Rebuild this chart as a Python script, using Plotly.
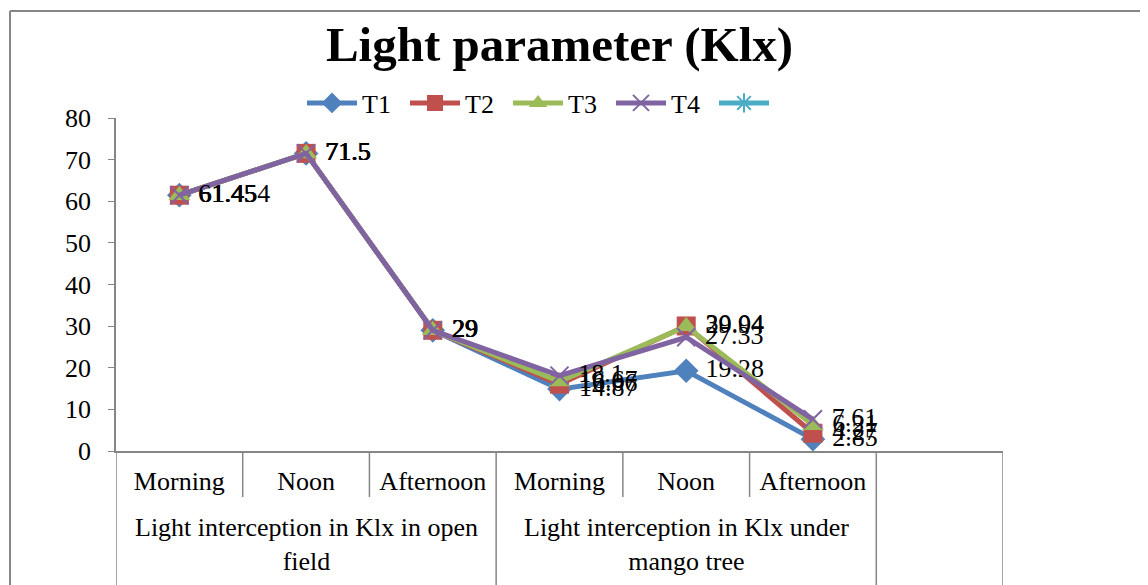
import plotly.graph_objects as go

# ── Data ─────────────────────────────────────────────────────────────────────
PERIODS = ["Morning", "Noon", "Afternoon", "Morning", "Noon", "Afternoon"]
GROUPS = ["Light interception in Klx in open<br>field",
          "Light interception in Klx under<br>mango tree"]
GROUP_CENTERS = [1, 4]          # category index at middle of each group
N_SLOTS = 7                     # source chart keeps one empty slot at the end

T1 = [61.454, 71.5, 29, 14.87, 19.28, 2.85]
T2 = [61.45, 71.5, 29, 16.06, 30.04, 4.27]
T3 = [61.45, 71.5, 29, 16.67, 29.94, 6.21]
T4 = [61.45, 71.5, 29, 18.1, 27.33, 7.61]
T5 = [None] * len(PERIODS)      # empty series, only shows in legend

SERIES = [
    ("T1", T1, "#4F81BD", "diamond"),
    ("T2", T2, "#C0504D", "square"),
    ("T3", T3, "#9BBB59", "triangle-up"),
    ("T4", T4, "#8064A2", "x-thin"),
    (" ", T5, "#4BACC6", "asterisk"),
]

FONT = "Liberation Serif, Times New Roman, serif"
AXIS_CLR = "#868686"

x_idx = list(range(len(PERIODS)))

fig = go.Figure()
for name, vals, clr, sym in SERIES:
    thin = sym in ("x-thin", "asterisk")
    fig.add_trace(go.Scatter(
        x=x_idx, y=vals, name=name,
        mode="lines+markers+text",
        text=[(" " + f"{v:g}") if v is not None else "" for v in vals],
        textposition="middle right",
        textfont=dict(family=FONT, size=26, color="black"),
        line=dict(color=clr, width=5),
        marker=dict(symbol=sym, size=19 if not thin else 18, color=clr,
                    line=dict(color=clr, width=2 if thin else 0)),
        cliponaxis=False,
    ))

# category boxes under the x axis (Excel-style multi-level labels)
short_y0 = -46 / 333
long_y0 = -0.5
shapes = []
for b in range(N_SLOTS + 1):
    xb = b - 0.5
    full = b in (0, 3, 6, 7)
    shapes.append(dict(type="line", xref="x", yref="paper",
                       x0=xb, x1=xb, y0=long_y0 if full else short_y0, y1=0,
                       line=dict(color=AXIS_CLR, width=1.5)))
# outer chart frame (top and left edges visible)
FRAME_X = -106 / 887
FRAME_Y = 440 / 333
shapes.append(dict(type="line", xref="paper", yref="paper",
                   x0=FRAME_X, x1=1.2, y0=FRAME_Y, y1=FRAME_Y,
                   line=dict(color=AXIS_CLR, width=2)))
shapes.append(dict(type="line", xref="paper", yref="paper",
                   x0=FRAME_X, x1=FRAME_X, y0=-0.6, y1=FRAME_Y,
                   line=dict(color=AXIS_CLR, width=2)))

annotations = [
    dict(text=g, x=c, y=-93 / 333, xref="x", yref="paper",
         showarrow=False, yanchor="middle",
         font=dict(family=FONT, size=26, color="black"))
    for g, c in zip(GROUPS, GROUP_CENTERS)
]

# page body has an 8px margin, so the figure is drawn 8px smaller / shifted
fig.update_layout(
    width=1140, height=577,
    paper_bgcolor="white", plot_bgcolor="white",
    margin=dict(l=108, r=145, t=110, b=134),
    font=dict(family=FONT, color="black", size=26),
    title=dict(text="<b>Light parameter (Klx)</b>", x=0.5, xref="paper",
               y=1 - 36 / 577, yref="container", yanchor="middle",
               font=dict(family=FONT, size=49, color="black")),
    showlegend=True,
    legend=dict(orientation="h", x=0.5, xanchor="center", y=1.045,
                yanchor="middle", font=dict(family=FONT, size=26),
                bgcolor="rgba(0,0,0,0)", itemwidth=50,
                entrywidth=38, entrywidthmode="pixels"),
    shapes=shapes,
    annotations=annotations,
)
fig.update_xaxes(
    range=[-0.5, N_SLOTS - 0.5], tickvals=x_idx, ticktext=PERIODS,
    showgrid=False, zeroline=False, showline=True, linecolor=AXIS_CLR,
    linewidth=1.5, ticks="", ticklabelstandoff=6,
    tickfont=dict(family=FONT, size=26, color="black"),
)
fig.update_yaxes(
    range=[0, 80], dtick=10, showgrid=False, zeroline=False,
    showline=True, linecolor=AXIS_CLR, linewidth=1.5,
    ticks="outside", ticklen=6, tickcolor=AXIS_CLR, ticklabelstandoff=12,
    tickfont=dict(family=FONT, size=26, color="black"),
)

fig.write_html("out.html")
